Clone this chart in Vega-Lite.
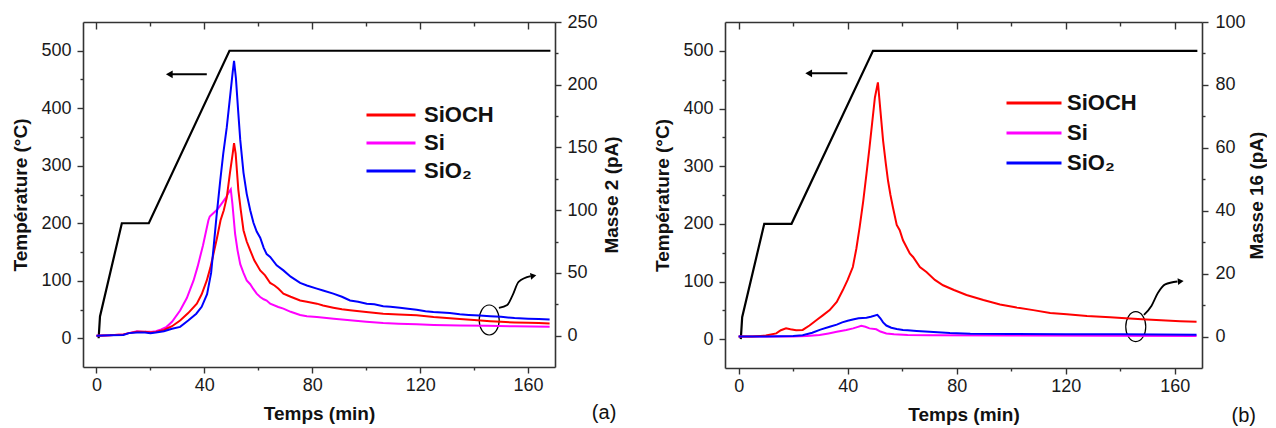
{
"$schema": "https://vega.github.io/schema/vega-lite/v6.json",
"background": "white",
"padding": {"left": 11, "top": 13, "right": 0, "bottom": 0},
"config": {
  "view": {"stroke": null},
  "axis": {"labelFont": "Liberation Sans", "labelFontSize": 18, "labelColor": "#1a1a1a", "titleFont": "Liberation Sans", "titleFontSize": 19, "titleFontWeight": "bold", "titleColor": "#111", "domainColor": "#333", "domainWidth": 1.6, "tickColor": "#333", "tickWidth": 1.4, "grid": false, "labelFlush": false, "labelOverlap": false}
},
"datasets": {
  "temp": [{"t":0.8,"temp":0},{"t":1.3,"temp":38},{"t":9.4,"temp":200},{"t":19.4,"temp":200},{"t":49.3,"temp":500},{"t":168.3,"temp":500}],
  "m2": [
{"t":0,"v":0,"s":"Si"},{"t":5,"v":0.3,"s":"Si"},{"t":10,"v":1,"s":"Si"},{"t":12,"v":2,"s":"Si"},{"t":15,"v":3.5,"s":"Si"},{"t":18,"v":3,"s":"Si"},{"t":20,"v":3,"s":"Si"},{"t":22,"v":3.5,"s":"Si"},{"t":24,"v":5,"s":"Si"},{"t":26,"v":7,"s":"Si"},{"t":28,"v":11,"s":"Si"},{"t":31,"v":20,"s":"Si"},{"t":33.5,"v":30,"s":"Si"},{"t":36,"v":44,"s":"Si"},{"t":37.5,"v":55,"s":"Si"},{"t":38.4,"v":62.7,"s":"Si"},{"t":39.5,"v":72,"s":"Si"},{"t":40.5,"v":82,"s":"Si"},{"t":41.5,"v":92,"s":"Si"},{"t":42,"v":95,"s":"Si"},{"t":43,"v":97,"s":"Si"},{"t":44,"v":99,"s":"Si"},{"t":45,"v":101,"s":"Si"},{"t":46,"v":104,"s":"Si"},{"t":47,"v":107,"s":"Si"},{"t":48,"v":110,"s":"Si"},{"t":49,"v":114,"s":"Si"},{"t":49.8,"v":116.6,"s":"Si"},{"t":50.4,"v":105,"s":"Si"},{"t":51.4,"v":81,"s":"Si"},{"t":52.3,"v":68,"s":"Si"},{"t":53.3,"v":57,"s":"Si"},{"t":54.5,"v":50,"s":"Si"},{"t":55.7,"v":44,"s":"Si"},{"t":57,"v":41,"s":"Si"},{"t":58.2,"v":37,"s":"Si"},{"t":59.4,"v":33.5,"s":"Si"},{"t":60.7,"v":30.8,"s":"Si"},{"t":62,"v":29,"s":"Si"},{"t":63.1,"v":28,"s":"Si"},{"t":64.4,"v":25.5,"s":"Si"},{"t":67.4,"v":22.8,"s":"Si"},{"t":69.3,"v":21.5,"s":"Si"},{"t":72,"v":19,"s":"Si"},{"t":75.5,"v":16.5,"s":"Si"},{"t":78,"v":15.5,"s":"Si"},{"t":81.7,"v":14.8,"s":"Si"},{"t":88,"v":13.5,"s":"Si"},{"t":94,"v":12.2,"s":"Si"},{"t":100,"v":11,"s":"Si"},{"t":106.3,"v":10,"s":"Si"},{"t":112,"v":9.5,"s":"Si"},{"t":118.7,"v":9,"s":"Si"},{"t":125,"v":8.5,"s":"Si"},{"t":134.7,"v":8,"s":"Si"},{"t":145,"v":7.8,"s":"Si"},{"t":155,"v":7.5,"s":"Si"},{"t":168,"v":7,"s":"Si"},
{"t":0,"v":0,"s":"SiOCH"},{"t":5,"v":0.3,"s":"SiOCH"},{"t":10,"v":1,"s":"SiOCH"},{"t":12,"v":2,"s":"SiOCH"},{"t":15,"v":3,"s":"SiOCH"},{"t":18,"v":3,"s":"SiOCH"},{"t":20,"v":2.5,"s":"SiOCH"},{"t":22,"v":3,"s":"SiOCH"},{"t":25,"v":4.5,"s":"SiOCH"},{"t":28,"v":7.5,"s":"SiOCH"},{"t":31,"v":12,"s":"SiOCH"},{"t":34,"v":18,"s":"SiOCH"},{"t":37.2,"v":25.5,"s":"SiOCH"},{"t":39,"v":33,"s":"SiOCH"},{"t":40.9,"v":44,"s":"SiOCH"},{"t":42.2,"v":54,"s":"SiOCH"},{"t":43.4,"v":65.4,"s":"SiOCH"},{"t":44.7,"v":78,"s":"SiOCH"},{"t":46,"v":92,"s":"SiOCH"},{"t":47.2,"v":100,"s":"SiOCH"},{"t":48.3,"v":110,"s":"SiOCH"},{"t":49.5,"v":130,"s":"SiOCH"},{"t":50.5,"v":145,"s":"SiOCH"},{"t":51,"v":153.5,"s":"SiOCH"},{"t":51.6,"v":145,"s":"SiOCH"},{"t":52.6,"v":116,"s":"SiOCH"},{"t":53.5,"v":100,"s":"SiOCH"},{"t":54.5,"v":84,"s":"SiOCH"},{"t":55.7,"v":75,"s":"SiOCH"},{"t":57,"v":68,"s":"SiOCH"},{"t":58.5,"v":60,"s":"SiOCH"},{"t":60.7,"v":52,"s":"SiOCH"},{"t":62.5,"v":48,"s":"SiOCH"},{"t":64.4,"v":42,"s":"SiOCH"},{"t":66,"v":40,"s":"SiOCH"},{"t":67.4,"v":37.5,"s":"SiOCH"},{"t":69.3,"v":33.5,"s":"SiOCH"},{"t":72,"v":31,"s":"SiOCH"},{"t":75.5,"v":28,"s":"SiOCH"},{"t":78,"v":27,"s":"SiOCH"},{"t":81.7,"v":25.5,"s":"SiOCH"},{"t":84,"v":24,"s":"SiOCH"},{"t":87.8,"v":22.3,"s":"SiOCH"},{"t":91,"v":21,"s":"SiOCH"},{"t":94,"v":20.2,"s":"SiOCH"},{"t":100,"v":18.8,"s":"SiOCH"},{"t":106.3,"v":17.5,"s":"SiOCH"},{"t":112,"v":16.8,"s":"SiOCH"},{"t":118.7,"v":16.2,"s":"SiOCH"},{"t":125,"v":14.8,"s":"SiOCH"},{"t":134.7,"v":13.2,"s":"SiOCH"},{"t":140,"v":12.5,"s":"SiOCH"},{"t":146,"v":11.5,"s":"SiOCH"},{"t":150,"v":11,"s":"SiOCH"},{"t":155,"v":10.5,"s":"SiOCH"},{"t":160,"v":10.2,"s":"SiOCH"},{"t":164,"v":10,"s":"SiOCH"},{"t":168,"v":9.6,"s":"SiOCH"},
{"t":0,"v":0,"s":"SiO₂"},{"t":5,"v":0.3,"s":"SiO₂"},{"t":10,"v":0.5,"s":"SiO₂"},{"t":12,"v":2,"s":"SiO₂"},{"t":15,"v":2.5,"s":"SiO₂"},{"t":18,"v":2.5,"s":"SiO₂"},{"t":20,"v":2,"s":"SiO₂"},{"t":22,"v":2.5,"s":"SiO₂"},{"t":25,"v":3.5,"s":"SiO₂"},{"t":28,"v":5.5,"s":"SiO₂"},{"t":31,"v":7,"s":"SiO₂"},{"t":34,"v":12,"s":"SiO₂"},{"t":37,"v":17.5,"s":"SiO₂"},{"t":39,"v":23,"s":"SiO₂"},{"t":41,"v":33,"s":"SiO₂"},{"t":42.5,"v":50,"s":"SiO₂"},{"t":43.4,"v":70,"s":"SiO₂"},{"t":44.5,"v":95,"s":"SiO₂"},{"t":45.9,"v":124,"s":"SiO₂"},{"t":47,"v":145,"s":"SiO₂"},{"t":48.3,"v":166,"s":"SiO₂"},{"t":49.5,"v":190,"s":"SiO₂"},{"t":50.5,"v":210,"s":"SiO₂"},{"t":51,"v":219,"s":"SiO₂"},{"t":51.7,"v":205,"s":"SiO₂"},{"t":52.5,"v":180,"s":"SiO₂"},{"t":53.3,"v":156,"s":"SiO₂"},{"t":54.5,"v":130,"s":"SiO₂"},{"t":55.7,"v":113,"s":"SiO₂"},{"t":57,"v":100,"s":"SiO₂"},{"t":58.2,"v":90,"s":"SiO₂"},{"t":59.4,"v":83,"s":"SiO₂"},{"t":60.7,"v":78,"s":"SiO₂"},{"t":62,"v":70,"s":"SiO₂"},{"t":63.1,"v":65,"s":"SiO₂"},{"t":64.4,"v":62.7,"s":"SiO₂"},{"t":66.8,"v":56,"s":"SiO₂"},{"t":69.3,"v":52,"s":"SiO₂"},{"t":72,"v":47,"s":"SiO₂"},{"t":75.5,"v":42,"s":"SiO₂"},{"t":78,"v":40,"s":"SiO₂"},{"t":81.7,"v":37.5,"s":"SiO₂"},{"t":84,"v":36,"s":"SiO₂"},{"t":87.8,"v":33.5,"s":"SiO₂"},{"t":91,"v":31,"s":"SiO₂"},{"t":94,"v":28,"s":"SiO₂"},{"t":97,"v":27,"s":"SiO₂"},{"t":100.2,"v":25.5,"s":"SiO₂"},{"t":103,"v":25,"s":"SiO₂"},{"t":106.3,"v":23.4,"s":"SiO₂"},{"t":109,"v":23,"s":"SiO₂"},{"t":112.5,"v":22.3,"s":"SiO₂"},{"t":115.5,"v":21.5,"s":"SiO₂"},{"t":118.7,"v":20.7,"s":"SiO₂"},{"t":122,"v":19.5,"s":"SiO₂"},{"t":124.9,"v":18.8,"s":"SiO₂"},{"t":128,"v":18.5,"s":"SiO₂"},{"t":131,"v":18,"s":"SiO₂"},{"t":134.7,"v":17,"s":"SiO₂"},{"t":138,"v":16.5,"s":"SiO₂"},{"t":142,"v":16,"s":"SiO₂"},{"t":146,"v":15.5,"s":"SiO₂"},{"t":150,"v":15,"s":"SiO₂"},{"t":155,"v":14,"s":"SiO₂"},{"t":160,"v":13.5,"s":"SiO₂"},{"t":164,"v":13.2,"s":"SiO₂"},{"t":168,"v":12.8,"s":"SiO₂"}
  ],
  "m16": [
{"t":0,"v":0,"s":"Si"},{"t":20,"v":0,"s":"Si"},{"t":25,"v":0.2,"s":"Si"},{"t":29.7,"v":0.5,"s":"Si"},{"t":33,"v":1,"s":"Si"},{"t":36,"v":1.5,"s":"Si"},{"t":39.5,"v":2.1,"s":"Si"},{"t":42,"v":2.6,"s":"Si"},{"t":43.5,"v":3,"s":"Si"},{"t":45,"v":3.4,"s":"Si"},{"t":46.5,"v":3.1,"s":"Si"},{"t":48,"v":2.6,"s":"Si"},{"t":50.5,"v":2.3,"s":"Si"},{"t":52,"v":1.6,"s":"Si"},{"t":54.2,"v":1,"s":"Si"},{"t":57,"v":0.7,"s":"Si"},{"t":62,"v":0.5,"s":"Si"},{"t":70,"v":0.4,"s":"Si"},{"t":100,"v":0.3,"s":"Si"},{"t":168,"v":0.2,"s":"Si"},
{"t":0,"v":0,"s":"SiOCH"},{"t":5,"v":0,"s":"SiOCH"},{"t":10,"v":0.3,"s":"SiOCH"},{"t":13.8,"v":1,"s":"SiOCH"},{"t":15.5,"v":2,"s":"SiOCH"},{"t":17.4,"v":2.6,"s":"SiOCH"},{"t":19,"v":2.3,"s":"SiOCH"},{"t":21.1,"v":2,"s":"SiOCH"},{"t":23.5,"v":2.1,"s":"SiOCH"},{"t":26,"v":3.5,"s":"SiOCH"},{"t":28.5,"v":5.2,"s":"SiOCH"},{"t":31,"v":6.8,"s":"SiOCH"},{"t":33.4,"v":8.4,"s":"SiOCH"},{"t":36,"v":11,"s":"SiOCH"},{"t":38.2,"v":14.7,"s":"SiOCH"},{"t":40,"v":18,"s":"SiOCH"},{"t":41.9,"v":22.1,"s":"SiOCH"},{"t":43.2,"v":28,"s":"SiOCH"},{"t":44.4,"v":34.8,"s":"SiOCH"},{"t":45.7,"v":43,"s":"SiOCH"},{"t":46.9,"v":51.7,"s":"SiOCH"},{"t":48,"v":60,"s":"SiOCH"},{"t":49,"v":68,"s":"SiOCH"},{"t":50,"v":76,"s":"SiOCH"},{"t":51.1,"v":80.8,"s":"SiOCH"},{"t":52,"v":72,"s":"SiOCH"},{"t":53,"v":62.3,"s":"SiOCH"},{"t":54,"v":55,"s":"SiOCH"},{"t":54.8,"v":49.6,"s":"SiOCH"},{"t":55.7,"v":45,"s":"SiOCH"},{"t":56.6,"v":41.1,"s":"SiOCH"},{"t":58,"v":35.5,"s":"SiOCH"},{"t":59.1,"v":33.8,"s":"SiOCH"},{"t":60.3,"v":30.6,"s":"SiOCH"},{"t":62.8,"v":26.4,"s":"SiOCH"},{"t":64,"v":25.3,"s":"SiOCH"},{"t":66.5,"v":22.1,"s":"SiOCH"},{"t":68.9,"v":20.5,"s":"SiOCH"},{"t":72,"v":18,"s":"SiOCH"},{"t":75,"v":16.3,"s":"SiOCH"},{"t":79,"v":14.8,"s":"SiOCH"},{"t":83.6,"v":13.2,"s":"SiOCH"},{"t":89.8,"v":11.6,"s":"SiOCH"},{"t":95.9,"v":10.2,"s":"SiOCH"},{"t":102,"v":9.2,"s":"SiOCH"},{"t":108.1,"v":8.4,"s":"SiOCH"},{"t":114.3,"v":7.5,"s":"SiOCH"},{"t":120.4,"v":7.1,"s":"SiOCH"},{"t":127.8,"v":6.5,"s":"SiOCH"},{"t":136.3,"v":6.1,"s":"SiOCH"},{"t":142,"v":5.8,"s":"SiOCH"},{"t":148,"v":5.5,"s":"SiOCH"},{"t":155,"v":5.2,"s":"SiOCH"},{"t":162,"v":4.9,"s":"SiOCH"},{"t":168,"v":4.7,"s":"SiOCH"},
{"t":0,"v":0,"s":"SiO₂"},{"t":10,"v":0,"s":"SiO₂"},{"t":20,"v":0.2,"s":"SiO₂"},{"t":23.5,"v":0.4,"s":"SiO₂"},{"t":27,"v":1.2,"s":"SiO₂"},{"t":30,"v":2.2,"s":"SiO₂"},{"t":33.4,"v":3.1,"s":"SiO₂"},{"t":36,"v":3.8,"s":"SiO₂"},{"t":38,"v":4.5,"s":"SiO₂"},{"t":40,"v":5,"s":"SiO₂"},{"t":41.9,"v":5.4,"s":"SiO₂"},{"t":44,"v":5.8,"s":"SiO₂"},{"t":46.9,"v":6,"s":"SiO₂"},{"t":48.5,"v":6.3,"s":"SiO₂"},{"t":50.9,"v":6.9,"s":"SiO₂"},{"t":52,"v":5.8,"s":"SiO₂"},{"t":53,"v":4.5,"s":"SiO₂"},{"t":54.2,"v":3.5,"s":"SiO₂"},{"t":56,"v":2.8,"s":"SiO₂"},{"t":58,"v":2.4,"s":"SiO₂"},{"t":60.3,"v":2.1,"s":"SiO₂"},{"t":62,"v":2,"s":"SiO₂"},{"t":65.3,"v":1.8,"s":"SiO₂"},{"t":70,"v":1.5,"s":"SiO₂"},{"t":77.5,"v":1.1,"s":"SiO₂"},{"t":85,"v":0.9,"s":"SiO₂"},{"t":100,"v":0.8,"s":"SiO₂"},{"t":120,"v":0.7,"s":"SiO₂"},{"t":140,"v":0.7,"s":"SiO₂"},{"t":168,"v":0.6,"s":"SiO₂"}
  ]
},
"hconcat": [
{
  "width": 472, "height": 345,
  "resolve": {"scale": {"y": "independent"}, "axis": {"x": "independent"}},
  "layer": [
    {
      "encoding": {
        "x": {"field": "t", "type": "quantitative", "scale": {"domain": [-5, 170], "nice": false, "zero": false},
              "axis": {"orient": "bottom", "title": "Temps (min)", "values": [0,20,40,60,80,100,120,140,160], "labelExpr": "datum.value % 40 === 0 ? datum.label : ''", "tickSize": {"condition": {"test": "datum.value % 40 === 0", "value": 6}, "value": 3}, "labelPadding": 3, "titlePadding": 10}},
        "y": {"field": "temp", "type": "quantitative", "scale": {"domain": [-50, 550], "nice": false, "zero": false},
              "axis": {"orient": "left", "title": "Température (°C)", "values": [0,50,100,150,200,250,300,350,400,450,500], "labelExpr": "datum.value % 100 === 0 ? datum.label : ''", "tickSize": {"condition": {"test": "datum.value % 100 === 0", "value": 6}, "value": 3}, "labelPadding": 6, "titlePadding": 10}}
      },
      "layer": [
        {"data": {"name": "temp"}, "mark": {"type": "line", "color": "black", "strokeWidth": 2.2}},
        {"data": {"values": [{"t": 40.9, "t2": 28, "temp": 459}]}, "mark": {"type": "rule", "color": "black", "strokeWidth": 2}, "encoding": {"x2": {"field": "t2"}}},
        {"data": {"values": [{"t": 27, "temp": 459}]}, "mark": {"type": "point", "shape": "triangle-left", "filled": true, "color": "black", "size": 60, "opacity": 1}},
        {"data": {"values": [{"t": 145.6, "temp": 31.7}]}, "mark": {"type": "point", "shape": "M0,-1A0.667,1,0,1,1,0,1A0.667,1,0,1,1,0,-1Z", "filled": false, "color": "black", "size": 900, "strokeWidth": 1.2, "opacity": 1}},
        {"data": {"values": [{"t": 149.2, "temp": 53}, {"t": 152.3, "temp": 58}, {"t": 154.3, "temp": 75}, {"t": 156.5, "temp": 98}, {"t": 161, "temp": 108}]}, "mark": {"type": "line", "color": "black", "strokeWidth": 1.8, "interpolate": "monotone"}},
        {"data": {"values": [{"t": 162, "temp": 108.5}]}, "mark": {"type": "point", "shape": "triangle-right", "filled": true, "color": "black", "size": 45, "angle": -10, "opacity": 1}},
        {"data": {"values": [{"t": 188.2, "temp": -130, "label": "(a)"}]}, "mark": {"type": "text", "font": "Liberation Sans", "fontSize": 20, "color": "#111", "align": "center", "baseline": "middle"}, "encoding": {"text": {"field": "label", "type": "nominal"}}}
      ]
    },
    {
      "data": {"name": "m2"},
      "mark": {"type": "line", "strokeWidth": 2},
      "encoding": {
        "x": {"field": "t", "type": "quantitative", "scale": {"domain": [-5, 170], "nice": false, "zero": false},
              "axis": {"orient": "top", "title": null, "labels": false, "values": [0,20,40,60,80,100,120,140,160], "tickSize": {"condition": {"test": "datum.value % 40 === 0", "value": -7}, "value": -4}}},
        "y": {"field": "v", "type": "quantitative", "scale": {"domain": [-25, 250], "nice": false, "zero": false},
              "axis": {"orient": "right", "title": "Masse 2 (pA)", "titleAngle": 270, "titleBaseline": "top", "values": [0,25,50,75,100,125,150,175,200,225,250], "labelExpr": "datum.value % 50 === 0 ? datum.label : ''", "tickSize": {"condition": {"test": "datum.value % 50 === 0", "value": 6}, "value": 3}, "labelPadding": 6, "titlePadding": 5}},
        "color": {"field": "s", "type": "nominal", "scale": {"domain": ["SiOCH", "Si", "SiO₂"], "range": ["#ff0000", "#ff00ff", "#0000ff"]},
                  "legend": {"orient": "none", "legendX": 297, "legendY": 82, "title": null, "symbolType": "M-3,0H3", "symbolSize": 267, "symbolStrokeWidth": 3, "labelFont": "Liberation Sans", "labelFontSize": 22, "labelFontWeight": "bold", "labelColor": "#111", "labelOffset": 22, "rowPadding": 6, "padding": 0}}
      }
    }
  ]
},
{
  "width": 477, "height": 346,
  "resolve": {"scale": {"y": "independent"}, "axis": {"x": "independent"}},
  "layer": [
    {
      "encoding": {
        "x": {"field": "t", "type": "quantitative", "scale": {"domain": [-5, 170], "nice": false, "zero": false},
              "axis": {"orient": "bottom", "title": "Temps (min)", "values": [0,20,40,60,80,100,120,140,160], "labelExpr": "datum.value % 40 === 0 ? datum.label : ''", "tickSize": {"condition": {"test": "datum.value % 40 === 0", "value": 6}, "value": 3}, "labelPadding": 3, "titlePadding": 10}},
        "y": {"field": "temp", "type": "quantitative", "scale": {"domain": [-50, 550], "nice": false, "zero": false},
              "axis": {"orient": "left", "title": "Température (°C)", "values": [0,50,100,150,200,250,300,350,400,450,500], "labelExpr": "datum.value % 100 === 0 ? datum.label : ''", "tickSize": {"condition": {"test": "datum.value % 100 === 0", "value": 6}, "value": 3}, "labelPadding": 6, "titlePadding": 10}}
      },
      "layer": [
        {"data": {"name": "temp"}, "mark": {"type": "line", "color": "black", "strokeWidth": 2.2}},
        {"data": {"values": [{"t": 39.9, "t2": 26.5, "temp": 461}]}, "mark": {"type": "rule", "color": "black", "strokeWidth": 2}, "encoding": {"x2": {"field": "t2"}}},
        {"data": {"values": [{"t": 25.7, "temp": 461}]}, "mark": {"type": "point", "shape": "triangle-left", "filled": true, "color": "black", "size": 60, "opacity": 1}},
        {"data": {"values": [{"t": 145.7, "temp": 21.7}]}, "mark": {"type": "point", "shape": "M0,-1A0.667,1,0,1,1,0,1A0.667,1,0,1,1,0,-1Z", "filled": false, "color": "black", "size": 900, "strokeWidth": 1.2, "opacity": 1}},
        {"data": {"values": [{"t": 148.7, "temp": 42}, {"t": 151.5, "temp": 58}, {"t": 153.8, "temp": 80}, {"t": 156.5, "temp": 95}, {"t": 161, "temp": 100}]}, "mark": {"type": "line", "color": "black", "strokeWidth": 1.8, "interpolate": "monotone"}},
        {"data": {"values": [{"t": 162.2, "temp": 100.3}]}, "mark": {"type": "point", "shape": "triangle-right", "filled": true, "color": "black", "size": 45, "angle": -5, "opacity": 1}},
        {"data": {"values": [{"t": 185.3, "temp": -133, "label": "(b)"}]}, "mark": {"type": "text", "font": "Liberation Sans", "fontSize": 20, "color": "#111", "align": "center", "baseline": "middle"}, "encoding": {"text": {"field": "label", "type": "nominal"}}}
      ]
    },
    {
      "data": {"name": "m16"},
      "mark": {"type": "line", "strokeWidth": 2},
      "encoding": {
        "x": {"field": "t", "type": "quantitative", "scale": {"domain": [-5, 170], "nice": false, "zero": false},
              "axis": {"orient": "top", "title": null, "labels": false, "values": [0,20,40,60,80,100,120,140,160], "tickSize": {"condition": {"test": "datum.value % 40 === 0", "value": -7}, "value": -4}}},
        "y": {"field": "v", "type": "quantitative", "scale": {"domain": [-10, 100], "nice": false, "zero": false},
              "axis": {"orient": "right", "title": "Masse 16 (pA)", "titleAngle": 270, "titleBaseline": "top", "values": [0,10,20,30,40,50,60,70,80,90,100], "labelExpr": "datum.value % 20 === 0 ? datum.label : ''", "tickSize": {"condition": {"test": "datum.value % 20 === 0", "value": 6}, "value": 3}, "labelPadding": 7, "titlePadding": 2}},
        "color": {"field": "s", "type": "nominal", "scale": {"domain": ["SiOCH", "Si", "SiO₂"], "range": ["#ff0000", "#ff00ff", "#0000ff"]},
                  "legend": {"orient": "none", "legendX": 298, "legendY": 70, "title": null, "symbolType": "M-3,0H3", "symbolSize": 336, "symbolStrokeWidth": 3, "labelFont": "Liberation Sans", "labelFontSize": 22, "labelFontWeight": "bold", "labelColor": "#111", "labelOffset": 22, "rowPadding": 8, "padding": 0}}
      }
    }
  ]
}
],
"spacing": 170,
"bounds": "flush",
"resolve": {"scale": {"color": "independent"}, "legend": {"color": "independent"}}
}
